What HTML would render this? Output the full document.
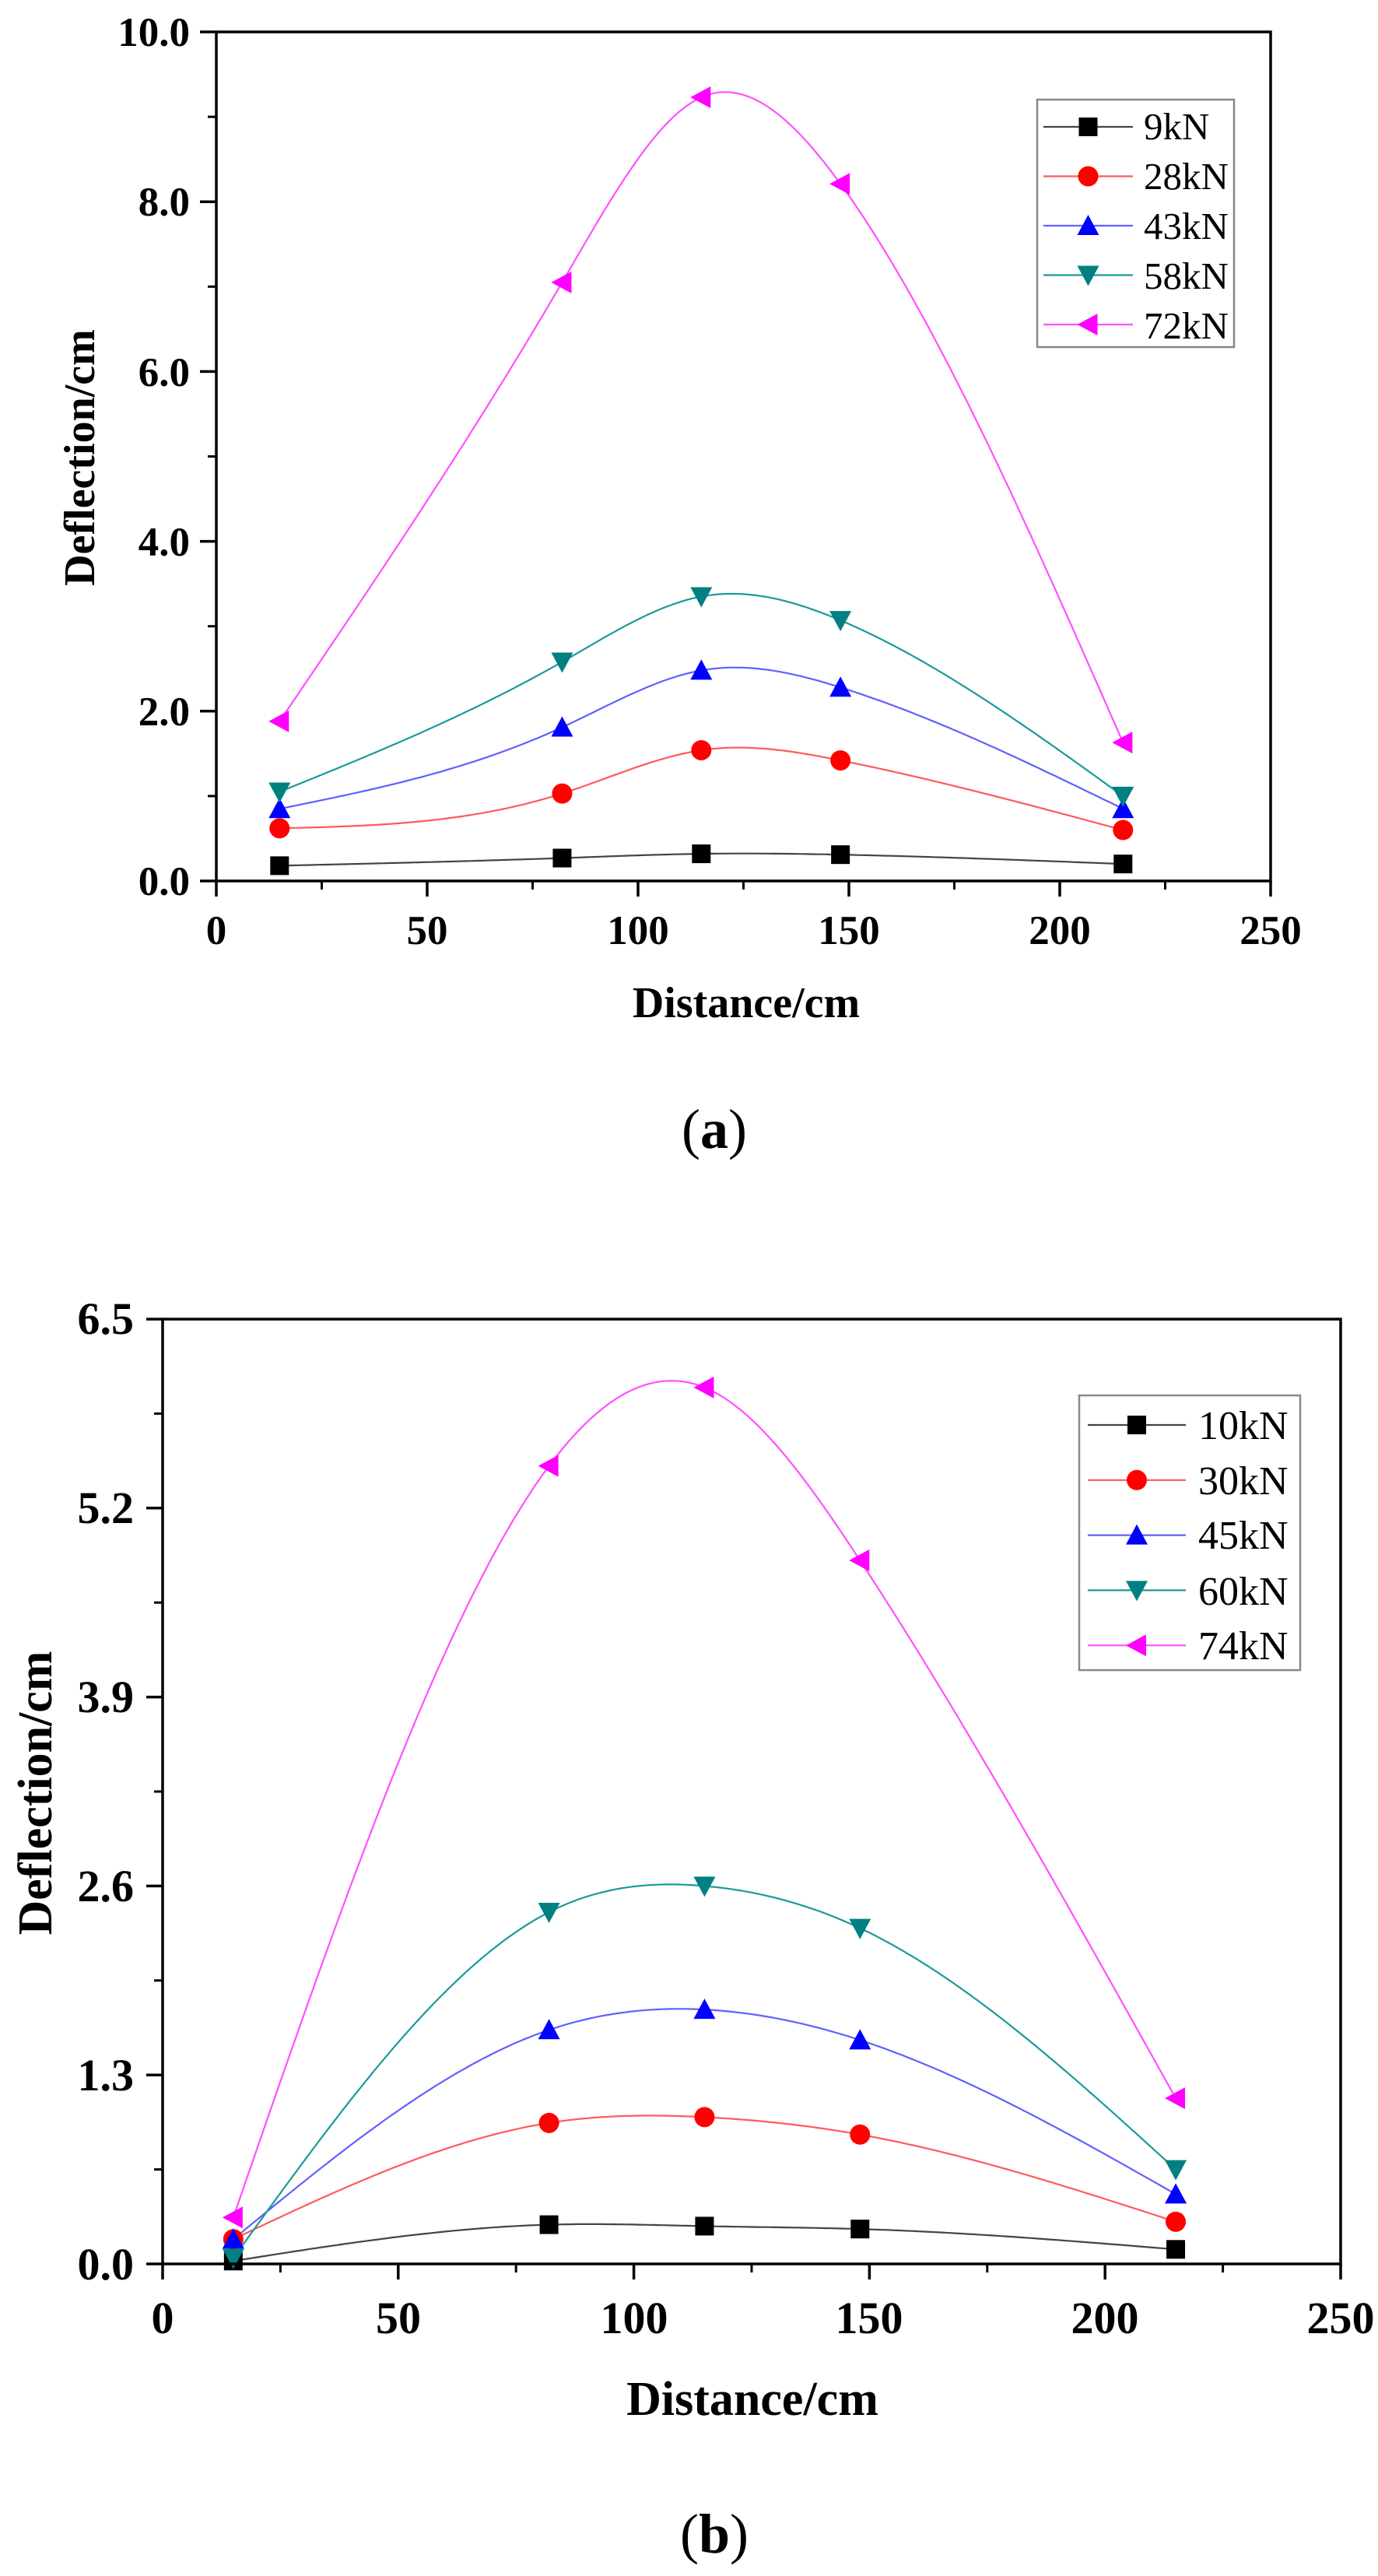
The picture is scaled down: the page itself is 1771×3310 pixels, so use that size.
<!DOCTYPE html>
<html><head><meta charset="utf-8"><style>
html,body{margin:0;padding:0;background:#fff;}
svg{display:block;}
text{font-family:"Liberation Serif","Times New Roman",serif;}
.tk{font-size:53px;font-weight:bold;}
.tkb{font-size:58px;font-weight:bold;}
.tt{font-size:56px;font-weight:bold;}
.ttb{font-size:62px;font-weight:bold;}
.lg{font-size:49px;}
.lgb{font-size:52px;}
.cap{font-size:72px;}
.cap tspan{font-weight:bold;}
</style></head><body>
<svg id="s" width="1771" height="3310" viewBox="0 0 1771 3310" xmlns="http://www.w3.org/2000/svg">
<rect width="1771" height="3310" fill="#fff"/>
<g id="ga"></g>
<g id="gb"></g>
<g class="tk" text-anchor="end">
<text x="244" y="1150">0.0</text>
<text x="244" y="932">2.0</text>
<text x="244" y="714">4.0</text>
<text x="244" y="496">6.0</text>
<text x="244" y="277">8.0</text>
<text x="244" y="59">10.0</text>
</g>
<g class="tk" text-anchor="middle">
<text x="278" y="1213">0</text>
<text x="549" y="1213">50</text>
<text x="820" y="1213">100</text>
<text x="1091" y="1213">150</text>
<text x="1362" y="1213">200</text>
<text x="1633" y="1213">250</text>
</g>
<text class="tt" x="959" y="1307" text-anchor="middle">Distance/cm</text>
<text class="tt" x="0" y="0" text-anchor="middle" transform="translate(121,588) rotate(-90)">Deflection/cm</text>
<text class="cap" x="918" y="1475" text-anchor="middle">(<tspan>a</tspan>)</text>
<g class="lg">
<text x="1470" y="179">9kN</text>
<text x="1470" y="243">28kN</text>
<text x="1470" y="307">43kN</text>
<text x="1470" y="371">58kN</text>
<text x="1470" y="435">72kN</text>
</g>
<g class="tkb" text-anchor="end">
<text x="172" y="2929">0.0</text>
<text x="172" y="2686">1.3</text>
<text x="172" y="2443">2.6</text>
<text x="172" y="2200">3.9</text>
<text x="172" y="1957">5.2</text>
<text x="172" y="1714">6.5</text>
</g>
<g class="tkb" text-anchor="middle">
<text x="209" y="2998">0</text>
<text x="512" y="2998">50</text>
<text x="815" y="2998">100</text>
<text x="1117" y="2998">150</text>
<text x="1420" y="2998">200</text>
<text x="1723" y="2998">250</text>
</g>
<text class="ttb" x="967" y="3103" text-anchor="middle">Distance/cm</text>
<text class="ttb" x="0" y="0" text-anchor="middle" transform="translate(66,2304) rotate(-90)">Deflection/cm</text>
<text class="cap" x="918" y="3280" text-anchor="middle">(<tspan>b</tspan>)</text>
<g class="lgb">
<text x="1540" y="1849">10kN</text>
<text x="1540" y="1920">30kN</text>
<text x="1540" y="1990">45kN</text>
<text x="1540" y="2062">60kN</text>
<text x="1540" y="2132">74kN</text>
</g>
</svg>
<script>
var NS="http://www.w3.org/2000/svg";
function el(g,t,a){var e=document.createElementNS(NS,t);for(var k in a)e.setAttribute(k,a[k]);g.appendChild(e);return e;}
function spline(xs,ys){var n=xs.length,h=[],al=[],l=[1],mu=[0],z=[0],c=new Array(n).fill(0),b=[],d=[];
for(var i=0;i<n-1;i++)h[i]=xs[i+1]-xs[i];
for(i=1;i<n-1;i++)al[i]=3/h[i]*(ys[i+1]-ys[i])-3/h[i-1]*(ys[i]-ys[i-1]);
for(i=1;i<n-1;i++){l[i]=2*(xs[i+1]-xs[i-1])-h[i-1]*mu[i-1];mu[i]=h[i]/l[i];z[i]=(al[i]-h[i-1]*z[i-1])/l[i];}
l[n-1]=1;z[n-1]=0;c[n-1]=0;
for(var j=n-2;j>=0;j--){c[j]=z[j]-mu[j]*c[j+1];b[j]=(ys[j+1]-ys[j])/h[j]-h[j]*(c[j+1]+2*c[j])/3;d[j]=(c[j+1]-c[j])/(3*h[j]);}
return function(x){var k=0;while(k<n-2&&x>xs[k+1])k++;var dx=x-xs[k];return ys[k]+b[k]*dx+c[k]*dx*dx+d[k]*dx*dx*dx;};}
function marker(g,type,x,y,col){var s=12;
if(type==0)el(g,'rect',{x:x-s,y:y-s,width:2*s,height:2*s,fill:col});
else if(type==1)el(g,'circle',{cx:x,cy:y,r:s+1,fill:col});
else if(type==2)el(g,'polygon',{points:(x)+','+(y-s-2)+' '+(x+s+2)+','+(y+s)+' '+(x-s-2)+','+(y+s),fill:col});
else if(type==3)el(g,'polygon',{points:(x)+','+(y+s+2)+' '+(x+s+2)+','+(y-s)+' '+(x-s-2)+','+(y-s),fill:col});
else el(g,'polygon',{points:(x-s-2)+','+y+' '+(x+s)+','+(y-s-2)+' '+(x+s)+','+(y+s+2),fill:col});}
var mcol=['#000','#ff0000','#0000ff','#008080','#ff00ff'];
var lcol=['#444','#ff5a5a','#6060ff','#1a9a9a','#ff50ff'];
function chart(g,L,R,T,B,ymax,ymaj,ymin,data,leg){
 var X=function(v){return L+(R-L)*v/250;},Y=function(v){return B-(B-T)*v/ymax;};
 var xs=[15,82,115,148,215];
 data.forEach(function(ys,si){var f=spline(xs,ys),d='';
  for(var x=15;x<=215.001;x+=1){d+=(x==15?'M':'L')+X(x).toFixed(1)+','+Y(f(x)).toFixed(1);}
  el(g,'path',{d:d,fill:'none',stroke:lcol[si],'stroke-width':2.2});});
 data.forEach(function(ys,si){xs.forEach(function(x,i){marker(g,si,X(x),Y(ys[i]),mcol[si]);});});
 el(g,'rect',{x:L,y:T,width:R-L,height:B-T,fill:'none',stroke:'#000','stroke-width':3.5});
 for(var v=0;v<=250;v+=50)el(g,'line',{x1:X(v),y1:B,x2:X(v),y2:B+20,stroke:'#000','stroke-width':3.5});
 for(v=25;v<250;v+=50)el(g,'line',{x1:X(v),y1:B,x2:X(v),y2:B+11,stroke:'#000','stroke-width':3});
 for(v=0;v<=ymax+1e-6;v+=ymaj)el(g,'line',{x1:L-21,y1:Y(v),x2:L,y2:Y(v),stroke:'#000','stroke-width':3.5});
 for(v=ymin;v<ymax;v+=ymaj)el(g,'line',{x1:L-11,y1:Y(v),x2:L,y2:Y(v),stroke:'#000','stroke-width':3});
 el(g,'rect',{x:leg[0],y:leg[1],width:leg[2]-leg[0],height:leg[3]-leg[1],fill:'none',stroke:'#888','stroke-width':2.5});
 for(var i=0;i<5;i++){var yy=leg[4]+i*leg[5];
  el(g,'line',{x1:leg[6],y1:yy,x2:leg[7],y2:yy,stroke:lcol[i],'stroke-width':2.2});
  marker(g,i,(leg[6]+leg[7])/2,yy,mcol[i]);}
}
chart(document.getElementById('ga'),278,1633,41,1132,10,2,1,[
[0.18,0.27,0.32,0.31,0.20],[0.62,1.03,1.54,1.42,0.60],[0.85,1.81,2.48,2.28,0.85],[1.05,2.58,3.35,3.07,1.00],[1.88,7.05,9.23,8.21,1.63]],
[1333,128,1586,446,163,63.5,1341,1456]);
chart(document.getElementById('gb'),209,1723,1695,2909,6.5,1.3,0.65,[
[0.02,0.27,0.26,0.24,0.10],[0.17,0.97,1.01,0.89,0.29],[0.17,1.61,1.75,1.54,0.48],[0.04,2.42,2.60,2.31,0.65],[0.32,5.49,6.03,4.84,1.14]],
[1387,1793,1671,2146,1831,70.8,1398,1524]);
</script>
</body></html>
